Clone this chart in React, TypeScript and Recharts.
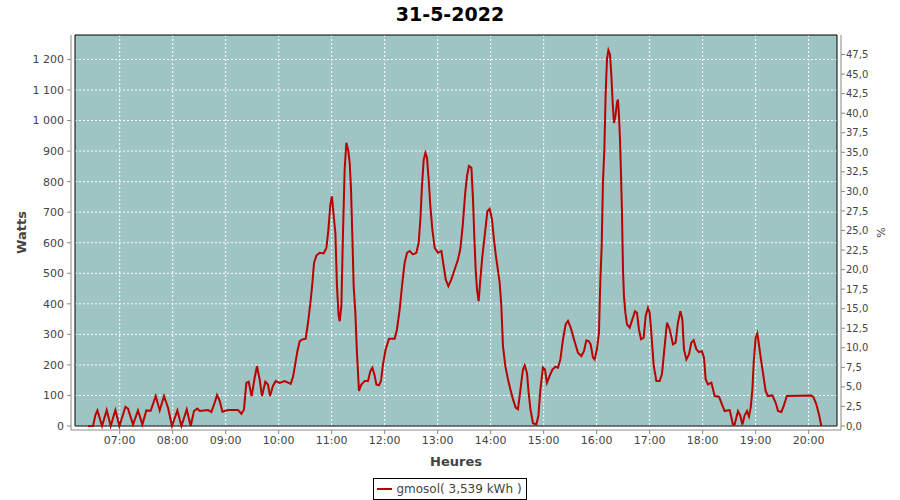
import {
  CartesianGrid,
  Legend,
  Line,
  LineChart,
  ReferenceArea,
  XAxis,
  YAxis,
} from "recharts";

// time of each sample, minutes after midnight
const minutes = [
  384.1, 389.8, 392.5, 394.8, 400.0, 405.3, 409.8, 415.1, 419.7, 426.5, 429.4, 435.1, 440.7, 445.7,
  450.2, 455.1, 460.8, 465.3, 470.2, 474.7, 479.2, 485.3, 489.9, 495.9, 500.4, 504.1, 508.0, 510.6,
  520.0, 523.8, 527.5, 530.2, 533.2, 536.3, 542.6, 553.9, 557.8, 560.7, 563.4, 566.0, 569.4, 572.8,
  575.4, 578.5, 581.1, 584.9, 587.9, 590.2, 593.5, 596.6, 601.1, 606.8, 613.6, 616.2, 618.9, 621.2,
  623.8, 627.5, 630.6, 633.2, 635.9, 638.2, 640.0, 642.7, 646.4, 650.9, 654.0, 656.3, 658.5, 660.3,
  662.3, 664.2, 666.0, 667.9, 669.1, 671.0, 672.8, 674.7, 676.6, 678.9, 680.4, 681.9, 683.4, 684.9,
  686.8, 688.6, 690.9, 693.6, 697.4, 701.1, 703.8, 706.1, 708.3, 710.6, 713.6, 715.8, 718.1, 721.1,
  724.9, 731.3, 733.9, 737.0, 740.0, 742.6, 745.3, 748.3, 752.0, 755.9, 758.5, 760.4, 762.2, 764.2,
  766.1, 767.9, 769.8, 771.7, 774.0, 776.6, 780.3, 784.2, 786.8, 789.1, 792.1, 795.5, 799.3, 803.0,
  805.7, 808.3, 811.1, 813.2, 815.4, 818.2, 820.0, 821.6, 823.0, 824.5, 826.4, 828.3, 830.6, 833.2,
  836.3, 838.9, 841.5, 843.7, 845.7, 847.6, 850.2, 852.1, 853.9, 856.6, 859.6, 862.7, 865.3, 868.3,
  870.9, 872.8, 875.1, 876.6, 878.5, 881.1, 883.0, 885.0, 887.9, 891.7, 894.0, 896.3, 899.2, 901.5,
  903.7, 906.8, 909.9, 913.3, 916.2, 918.9, 921.9, 924.9, 927.5, 930.6, 934.3, 938.8, 942.7, 945.6,
  948.3, 951.0, 953.2, 955.8, 957.7, 960.3, 962.6, 964.2, 965.7, 967.1, 968.7, 970.2, 971.7, 973.3,
  975.1, 976.7, 978.1, 979.6, 981.2, 983.0, 984.1, 985.3, 986.4, 987.5, 988.6, 989.8, 990.9, 992.5,
  994.3, 997.4, 1000.4, 1003.4, 1005.6, 1007.9, 1010.2, 1013.2, 1015.5, 1018.1, 1020.0, 1021.9,
  1024.5, 1027.6, 1031.3, 1033.9, 1037.0, 1039.6, 1042.7, 1046.4, 1049.4, 1052.0, 1054.8, 1057.0,
  1058.8, 1061.6, 1064.5, 1067.2, 1069.8, 1072.9, 1075.8, 1079.2, 1081.5, 1083.4, 1086.0, 1089.9,
  1093.6, 1098.5, 1101.2, 1104.9, 1110.6, 1114.3, 1116.2, 1120.0, 1122.7, 1125.0, 1127.6, 1130.2,
  1132.4, 1134.4, 1136.3, 1137.8, 1140.0, 1141.9, 1143.7, 1146.0, 1148.3, 1151.3, 1153.9, 1158.9,
  1162.7, 1165.3, 1169.1, 1171.7, 1175.4, 1203.1, 1205.7, 1208.7, 1211.7, 1214.4,
];

// power in watts at each sample
const watts = [
  0, 0, 36, 51, 0, 52, 0, 52, 0, 63, 57, 5, 51, 5,
  51, 50, 98, 51, 98, 60, 0, 51, 0, 54, 0, 49, 57, 49,
  52, 46, 76, 101, 82, 47, 52, 52, 40, 54, 141, 145, 98, 158,
  196, 152, 98, 145, 136, 98, 131, 147, 141, 147, 138, 160, 205, 245,
  278, 284, 286, 338, 403, 469, 534, 558, 567, 565, 583, 643, 725, 752,
  687, 632, 458, 360, 343, 393, 632, 840, 927, 900, 861, 774, 622, 458,
  371, 240, 115, 136, 147, 147, 180, 191, 169, 136, 133, 147, 202, 251,
  286, 286, 316, 382, 469, 534, 567, 573, 562, 567, 600, 676, 785, 872,
  894, 878, 807, 720, 643, 583, 567, 573, 523, 480, 458, 480, 513, 545,
  580, 654, 760, 818, 851, 845, 742, 611, 513, 447, 409, 480, 556, 622,
  703, 711, 676, 611, 562, 523, 469, 393, 262, 196, 153, 115, 87, 60,
  55, 98, 153, 185, 198, 174, 109, 55, 9, 5, 33, 120, 191, 185,
  142, 164, 185, 194, 191, 218, 284, 333, 344, 322, 284, 240, 229, 245,
  280, 278, 267, 224, 218, 251, 305, 480, 589, 796, 905, 1091, 1200, 1230,
  1216, 1145, 1058, 992, 1014, 1058, 1069, 1014, 938, 829, 709, 513, 425, 371,
  333, 322, 349, 376, 371, 316, 284, 289, 360, 387, 370, 305,
  200, 147, 147, 169, 262, 338, 316, 267, 273, 338, 376, 349,
  251, 218, 234, 273, 281, 251, 242, 245, 224, 153, 136, 142,
  98, 96, 76, 49, 52, 5, 5, 49, 33, 5, 35, 49,
  31, 60, 120, 207, 289, 303, 267, 218, 174, 115, 98, 100,
  76, 49, 46, 65, 98, 100, 93, 71, 38, 0,
];

const hourTicks = [420, 480, 540, 600, 660, 720, 780, 840, 900, 960, 1020, 1080, 1140, 1200];
const wattTicks = [0, 100, 200, 300, 400, 500, 600, 700, 800, 900, 1000, 1100, 1200];
const percentTicks = [
  0, 2.5, 5, 7.5, 10, 12.5, 15, 17.5, 20, 22.5, 25, 27.5, 30, 32.5, 35, 37.5, 40, 42.5, 45, 47.5,
];

const title = "31-5-2022";
const seriesName = "gmosol";
const energyLabel = "3,539 kWh";

// full scale of the two axes: 1280 W on the left equals 50 % on the right
const WATT_MAX = 1280;
const PCT_MAX = 50;

const FONT = "'DejaVu Sans', Verdana, sans-serif";
const LINE_RED = "#bb0000";
const PLOT_BG = "#9ec4c3";
const TEXT = "#444444";
const AXIS = "#888888";

const data = minutes.map((t, i) => ({ t, w: watts[i], pct: (watts[i] * PCT_MAX) / WATT_MAX }));

const fmtHour = (v: number) => `${String(Math.floor(v / 60)).padStart(2, "0")}:00`;
const fmtWatts = (v: number) =>
  v >= 1000 ? `${Math.floor(v / 1000)} ${String(v % 1000).padStart(3, "0")}` : String(v);
const fmtPct = (v: number) => v.toFixed(1).replace(".", ",");

function LegendBox() {
  return (
    <div style={{ display: "flex", justifyContent: "center" }}>
      <div
        style={{
          display: "flex",
          alignItems: "center",
          border: "1px solid #000",
          height: 20,
          padding: "0 4px 0 3px",
          fontFamily: FONT,
          fontSize: 12,
          color: TEXT,
          background: "#fff",
        }}
      >
        <span style={{ display: "inline-block", width: 15, height: 2, background: LINE_RED, marginRight: 4 }} />
        {`${seriesName}( ${energyLabel} )`}
      </div>
    </div>
  );
}

export default function App() {
  return (
    <div style={{ position: "absolute", left: 0, top: 0, width: 900, height: 500, background: "#fff" }}>
      <div
        style={{
          position: "absolute",
          top: 1,
          width: 900,
          textAlign: "center",
          fontFamily: FONT,
          fontWeight: "bold",
          fontSize: 19,
          lineHeight: "26px",
          color: "#000",
        }}
      >
        {title}
      </div>
      <LineChart width={900} height={500} data={data} margin={{ top: 35, right: 0, bottom: 0, left: 0 }}>
        <CartesianGrid
          yAxisId="w"
          x={75}
          y={35}
          width={762}
          height={391}
          fill={PLOT_BG}
          stroke="#ffffff"
          strokeDasharray="2 2"
          horizontalValues={wattTicks}
          verticalValues={hourTicks}
        />
        <ReferenceArea
          yAxisId="w"
          x1={369.4}
          x2={1232.1}
          y1={0}
          y2={WATT_MAX}
          fill="none"
          stroke="#000"
          strokeWidth={1}
        />
        <XAxis
          dataKey="t"
          type="number"
          domain={[369.4, 1232.1]}
          ticks={hourTicks}
          tickFormatter={fmtHour}
          padding={{ left: 4, right: 4 }}
          height={48}
          tickSize={4}
          tickMargin={2}
          stroke={AXIS}
          tick={{ fill: TEXT, fontSize: 11, fontFamily: FONT }}
          label={{
            value: "Heures",
            position: "insideBottom",
            offset: 12,
            fill: TEXT,
            fontSize: 13,
            fontWeight: "bold",
            fontFamily: FONT,
          }}
        />
        <YAxis
          yAxisId="w"
          type="number"
          domain={[0, WATT_MAX]}
          ticks={wattTicks}
          tickFormatter={fmtWatts}
          padding={{ top: 0, bottom: 4 }}
          width={71}
          tickSize={4}
          tickMargin={3}
          stroke={AXIS}
          tick={{ fill: TEXT, fontSize: 11, fontFamily: FONT }}
          label={{
            value: "Watts",
            angle: -90,
            position: "insideLeft",
            offset: 21,
            style: { textAnchor: "middle" },
            fill: TEXT,
            fontSize: 13,
            fontWeight: "bold",
            fontFamily: FONT,
          }}
        />
        <YAxis
          yAxisId="pct"
          orientation="right"
          type="number"
          domain={[0, PCT_MAX]}
          allowDataOverflow
          ticks={percentTicks}
          tickFormatter={fmtPct}
          padding={{ top: 0, bottom: 4 }}
          width={59}
          tickSize={4}
          tickMargin={1}
          stroke={AXIS}
          tick={{ fill: TEXT, fontSize: 10, fontFamily: FONT }}
          label={{
            value: "%",
            angle: -90,
            position: "insideRight",
            offset: 19,
            style: { textAnchor: "middle" },
            fill: TEXT,
            fontSize: 11,
            fontFamily: FONT,
          }}
        />
        {/* same samples expressed in %, only there so the right axis gets drawn */}
        <Line
          yAxisId="pct"
          type="linear"
          dataKey="pct"
          stroke="none"
          dot={false}
          activeDot={false}
          legendType="none"
          isAnimationActive={false}
        />
        <Line
          yAxisId="w"
          type="linear"
          dataKey="w"
          name={seriesName}
          stroke={LINE_RED}
          strokeWidth={2}
          dot={false}
          activeDot={false}
          isAnimationActive={false}
        />
        <Legend verticalAlign="bottom" content={() => <LegendBox />} />
      </LineChart>
    </div>
  );
}
